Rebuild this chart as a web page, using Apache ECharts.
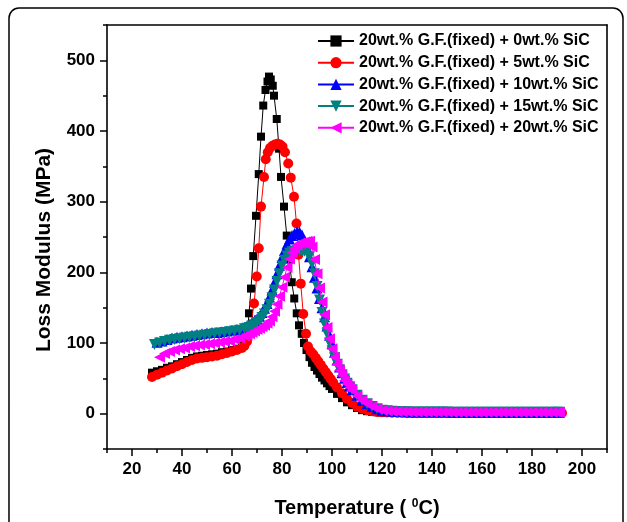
<!DOCTYPE html>
<html><head><meta charset="utf-8">
<script src="https://cdn.jsdelivr.net/npm/echarts@6/dist/echarts.min.js"></script>
<style>html,body{margin:0;padding:0;background:#fff}#c{width:627px;height:522px}</style>
</head><body><div id="c"></div>
<script>
const seriesNames = [
  '20wt.% G.F.(fixed) + 0wt.% SiC',
  '20wt.% G.F.(fixed) + 5wt.% SiC',
  '20wt.% G.F.(fixed) + 10wt.% SiC',
  '20wt.% G.F.(fixed) + 15wt.% SiC',
  '20wt.% G.F.(fixed) + 20wt.% SiC'
];
const xTickLabels = [20,40,60,80,100,120,140,160,180,200];
const yTickLabels = [0,100,200,300,400,500];

// [temperature (°C), loss modulus (MPa)]
const sic0 = [[28,58],[30,60],[32,62],[34,65],[36,67],[38,70],[40,73],[42,76],[44,79],[46,81],[48,82],[50,83],[52,84],[54,85],[56,87],[58,88],[60,90],[62,92],[64,96],
[65,100],[66,108],[66.8,142],[67.6,177],[68.5,223],[69.6,280],[70.7,339],[71.6,392],[72.5,436],[73.4,458],[74.2,470],[74.8,477],[75.5,473],[76.3,464],[76.8,450],[77.9,417],[78.8,375],[79.6,335],[80.8,293],[81.9,252],[82.9,218],[83.9,186],[84.9,163],[85.9,142],[86.8,125],[87.9,113],[88.8,100],[89.8,90],
[91,80],[92,72],[93,66],[94,61],[95,56],[96,51],[97,47],[98,43],[99,39],[100,35],[102,28],[104,22],[106,16],[108,12],[110,8],[112,5],[114,3.5],[116,2.5],[118,2],[120,1.5],
[122,1.3],[124,1.2],[126,1.1],[128,1],[130,1],[132,1],[134,1],[136,1],[138,1],[140,1],[142,1],[144,1],[146,1],[148,1],[150,1],[152,1],[154,1],[156,1],[158,1],[160,1],[162,1],[164,1],[166,1],[168,1],[170,1],[172,1],[174,1],[176,1],[178,1],[180,1],[182,1],[184,1],[186,1],[188,1],[190,1],[191,1]];

const sic5 = [[28,52],[30,55],[32,58],[34,61],[36,64],[38,67],[40,70],[42,73],[44,76],[46,78],[48,79],[50,80],[52,81],[54,82],[56,84],[58,86],[60,88],[62,90],[64,93],
[65,96],[66,102],[66.8,112],[67.6,125],[68.8,156],[69.9,194],[70.7,234],[71.6,293],[72.8,335],[73.5,360],[74.3,370],[75.2,376],[76.2,379],[77.2,381],[78.2,382],[79.2,381],[80.2,378],[81.2,370],[82.5,354],[83.5,334],[84.8,307],[85.8,269],[86.6,225],[87.5,184],[88.5,141],[89.6,113],[90.4,95],[91.5,88],
[92.5,84],[93.5,79],[94.5,74],[95.5,69],[96.5,64],[97.5,59],[98.5,54],[99.5,49],[100.5,44],[102,37],[104,29],[106,21],[108,15],[110,10],[112,7],[114,5],[116,3.5],[118,2.5],[120,2],
[122,1.6],[124,1.4],[126,1.3],[128,1.2],[130,1.1],[132,1],[134,1],[136,1],[138,1],[140,1],[142,1],[144,1],[146,1],[148,1],[150,1],[152,1],[154,1],[156,1],[158,1],[160,1],[162,1],[164,1],[166,1],[168,1],[170,1],[172,1],[174,1],[176,1],[178,1],[180,1],[182,1],[184,1],[186,1],[188,1],[190,1],[192,1]];

const sic10 = [[30,101],[32,103],[34,105],[36,107],[38,108],[40,109],[42,110],[44,111],[46,112],[48,113],[50,114],[52,115],[54,115],[56,116],[58,117],[60,118],[62,119],[64,121],
[65,122],[66,124],[67,126],[68,128],[69,131],[70,134],[71,138],[72,143],[73,149],[74,156],[75,165],[76,175],[77,186],[78,198],[79,210],[80,221],[81,231],[82,240],[83,247],[84,252],[85,255],[86,257],[87,257],[88,253],[89,245],[90,235],
[91,222],[92,208],[93,193],[94,178],[95,163],[96,150],[97,137],[98,124],[99,111],[100,99],[101,87],[102,76],[103,66],[104,58],[105,50],[106,44],[107,39],[108,34],[110,26],[112,19],[114,14],[116,10],[118,7],[120,5],
[122,4],[124,3.5],[126,3],[128,2.8],[130,2.6],[132,2.5],[134,2.4],[136,2.3],[138,2.3],[140,2.2],[142,2.2],[144,2.2],[146,2.2],[148,2.1],[150,2.1],[152,2.1],[154,2.1],[156,2.1],[158,2.1],[160,2],[162,2],[164,2],[166,2],[168,2],[170,2],[172,2],[174,2],[176,2],[178,2],[180,2],[182,2],[184,2],[186,2],[188,2],[190,2],[191,2]];

const sic15 = [[29,98],[31,100],[33,102],[35,104],[37,105],[39,106],[41,107],[43,108],[45,109],[47,110],[49,111],[51,112],[53,113],[55,114],[57,115],[59,116],[61,117],[63,118],
[65,120],[66,121],[67,122],[68,124],[69,126],[70,129],[71,132],[72,136],[73,141],[74,147],[75,155],[76,164],[77,175],[78,187],[79,198],[80,209],[81,217],[82,223],[83,227],[84,229],[85,230],[86,230],[87,230],[88,230],[89,230],[90,228],
[91,222],[92,212],[93,198],[94,180],[95,161],[96,143],[97,127],[98,113],[99,100],[100,89],[101,79],[102,70],[103,62],[104,55],[105,49],[106,43],[107,38],[108,34],[110,26],[112,19],[114,14],[116,10],[118,7],[120,5],
[122,4],[124,3.5],[126,3],[128,2.8],[130,2.6],[132,2.5],[134,2.4],[136,2.3],[138,2.3],[140,2.2],[142,2.2],[144,2.2],[146,2.2],[148,2.1],[150,2.1],[152,2.1],[154,2.1],[156,2.1],[158,2.1],[160,2],[162,2],[164,2],[166,2],[168,2],[170,2],[172,2],[174,2],[176,2],[178,2],[180,2],[182,2],[184,2],[186,2],[188,2],[190,2],[191,2]];

const sic20 = [[31,80],[33,85],[35,88],[37,90],[39,92],[41,93],[43,95],[45,96],[47,97],[49,98],[51,99],[53,100],[55,101],[57,102],[59,103],[61,105],[63,107],
[65,110],[66,111],[67,113],[68,115],[69,117],[70,119],[71,121],[72,123],[73,125],[74,128],[75,131],[76,137],[77,145],[78,155],[79,166],[80,179],[81,193],[82,207],[83,219],[84,228],[85,234],[86,238],[87,241],[88,242],[89,243],[90,244],[91,244],
[92,236],[93,218],[94,198],[95,178],[96,158],[97,140],[98,122],[99,106],[100,92],[101,80],[102,70],[103,61],[104,54],[105,47],[106,42],[107,37],[108,33],[110,25],[112,19],[114,14],[116,10],[118,7],[120,5],
[122,4],[124,3.5],[126,3],[128,2.8],[130,2.6],[132,2.5],[134,2.4],[136,2.3],[138,2.3],[140,2.2],[142,2.2],[144,2.2],[146,2.2],[148,2.1],[150,2.1],[152,2.1],[154,2.1],[156,2.1],[158,2.1],[160,2],[162,2],[164,2],[166,2],[168,2],[170,2],[172,2],[174,2],[176,2],[178,2],[180,2],[182,2],[184,2],[186,2],[188,2],[190,2],[191,2]];

const FONT = '"Liberation Sans", Arial, Helvetica, sans-serif';
const chart = echarts.init(document.getElementById('c'), null, {renderer: 'canvas'});

const seriesDefs = [
  {data: sic0, color: '#000000', symbol: 'rect', size: 8, rotate: 0},
  {data: sic5, color: '#ff0000', symbol: 'circle', size: 10, rotate: 0},
  {data: sic10, color: '#0000ff', symbol: 'triangle', size: 11, rotate: 0},
  {data: sic15, color: '#008080', symbol: 'triangle', size: 11, rotate: 180},
  {data: sic20, color: '#ff00ff', symbol: 'triangle', size: 11, rotate: 90}
];

const axisLineStyle = {color: '#000', width: 1.6};
const labelStyle = {color: '#000', fontSize: 17, fontWeight: 'bold', fontFamily: FONT};

const option = {
  animation: false,
  backgroundColor: '#ffffff',
  graphic: [{
    type: 'rect', z: -10, silent: true,
    shape: {x: 9, y: 8, width: 614, height: 540, r: 10},
    style: {fill: 'none', stroke: '#000', lineWidth: 1.5}
  }],
  grid: {left: 107, top: 25, right: 20, bottom: 73, containLabel: false, outerBoundsMode: 'none'},
  legend: {
    orient: 'vertical', left: 317, top: 33, padding: 0,
    itemWidth: 36, itemHeight: 14, itemGap: 7.7,
    textStyle: {color: '#000', fontSize: 16, fontWeight: 'bold', fontFamily: FONT, lineHeight: 14},
    data: seriesNames
  },
  xAxis: [{
    type: 'value', min: 10, max: 210, interval: 20, position: 'bottom',
    axisLine: {onZero: false, lineStyle: axisLineStyle},
    axisTick: {length: 4, lineStyle: {color: '#000', width: 1.5}},
    minorTick: {show: true, splitNumber: 2, length: 7, lineStyle: {color: '#000', width: 1.5}},
    axisLabel: {show: false},
    splitLine: {show: false},
    name: 'Temperature ( {sup|0}C)',
    nameLocation: 'middle', nameGap: 49,
    nameTextStyle: {color: '#000', fontSize: 20, fontWeight: 'bold', fontFamily: FONT,
      rich: {sup: {fontSize: 12, fontWeight: 'bold', fontFamily: FONT, color: '#000', verticalAlign: 'top', padding: [0, 0, 8, 0]}}}
  }, {
    type: 'value', min: 10, max: 210, interval: 10, position: 'bottom',
    axisLine: {show: false, onZero: false}, axisTick: {show: false}, splitLine: {show: false},
    axisLabel: Object.assign({margin: 12, formatter: v => xTickLabels.includes(v) ? String(v) : ''}, labelStyle)
  }, {
    type: 'value', min: 10, max: 210, position: 'top',
    axisLine: {show: true, onZero: false, lineStyle: axisLineStyle},
    axisTick: {show: false}, axisLabel: {show: false}, splitLine: {show: false}
  }],
  yAxis: [{
    type: 'value', min: -50, max: 550, interval: 100, position: 'left',
    axisLine: {show: true, onZero: false, lineStyle: axisLineStyle},
    axisTick: {show: true, length: 4, lineStyle: {color: '#000', width: 1.5}},
    minorTick: {show: true, splitNumber: 2, length: 7, lineStyle: {color: '#000', width: 1.5}},
    axisLabel: {show: false},
    splitLine: {show: false},
    name: 'Loss Modulus (MPa)',
    nameLocation: 'middle', nameGap: 52,
    nameTextStyle: {color: '#000', fontSize: 21, fontWeight: 'bold', fontFamily: FONT, padding: [0, 26, 0, 0]}
  }, {
    type: 'value', min: -50, max: 550, interval: 50, position: 'left',
    axisLine: {show: false, onZero: false}, axisTick: {show: false}, splitLine: {show: false},
    axisLabel: Object.assign({margin: 12, formatter: v => yTickLabels.includes(v) ? String(v) : ''}, labelStyle)
  }, {
    type: 'value', min: -50, max: 550, position: 'right',
    axisLine: {show: true, onZero: false, lineStyle: axisLineStyle},
    axisTick: {show: false}, axisLabel: {show: false}, splitLine: {show: false}
  }],
  series: seriesDefs.map((d, i) => ({
    name: seriesNames[i], type: 'line', xAxisIndex: 0, yAxisIndex: 0,
    data: d.data, symbol: d.symbol, symbolSize: d.size, symbolRotate: d.rotate,
    showSymbol: true, showAllSymbol: true,
    lineStyle: {color: d.color, width: 1},
    itemStyle: {color: d.color, borderWidth: 0},
    emphasis: {disabled: true},
    z: 2 + i
  }))
};
option.legend.itemGap = 5.7;
chart.setOption(option);
</script>
</body></html>
